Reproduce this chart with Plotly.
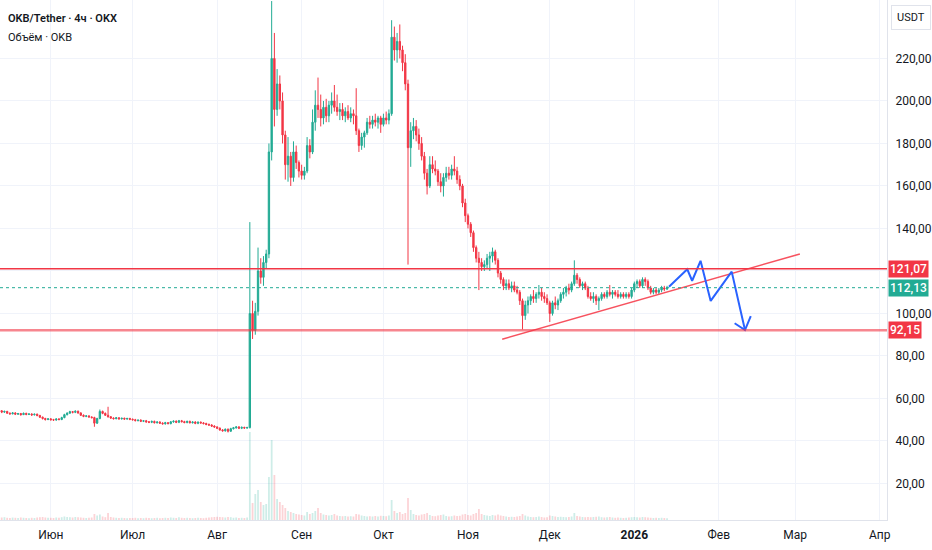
import pandas as pd
import plotly.graph_objects as go

# Daily OKB/USDT candles (13 May 2025 - 13 Jan 2026)
dates = pd.date_range('2025-05-13', '2026-01-13', freq='D')

opens = [
    # May 13-31
    54.6, 54.2, 53.6, 53.9, 53.1, 52.8, 53.2, 52.6, 52.9, 52.4, 53.0, 52.5, 52.7, 52.3, 52.6, 52.0, 51.2, 50.6, 50.1,
    # Jun
    50.4, 50.0, 49.9, 50.3, 50.1, 51.0, 52.4, 53.1, 53.8, 53.5, 54.0, 53.2, 52.1, 51.6, 51.8, 51.3, 51.0, 48.4, 50.6, 53.9,
    53.0, 52.1, 51.4, 50.8, 50.5, 50.9, 50.4, 50.7, 50.3, 50.6,
    # Jul
    50.2, 50.0, 49.6, 49.8, 49.3, 49.5, 49.0, 48.8, 49.2, 48.6, 48.9, 48.4, 48.1, 48.6, 48.2, 49.0, 49.3, 48.8, 49.5, 49.1,
    48.7, 49.2, 48.6, 48.9, 48.3, 48.8, 48.5, 48.2, 47.8, 47.5, 47.0,
    # Aug
    46.6, 46.0, 45.2, 44.8, 45.5, 44.6, 45.8, 46.2, 46.6, 46.0, 46.4, 46.1,
    46.3, 100, 92, 101, 120, 117, 124, 128, 176, 220, 196, 208, 200, 184, 170, 174, 164, 176, 171,
    # Sep
    167, 165, 167, 179, 176, 190, 198, 196, 192, 197, 193, 198, 200, 197, 195, 196, 193, 195, 192, 194,
    193, 186, 179, 183, 185, 190, 189, 191, 190, 192,
    # Oct
    189, 192, 191, 194, 230, 224, 228, 224, 218, 208, 178, 186, 188, 184, 180, 174, 166, 160, 170, 168,
    167, 162, 160, 164, 166, 165, 168, 167, 163, 160, 152,
    # Nov
    146, 142, 138, 131, 126, 124, 122, 123, 126, 127, 129, 125, 119, 116, 113, 114, 112, 113, 111, 110,
    106, 99, 104, 106, 108, 107, 109, 110, 108, 107,
    # Dec
    105, 100, 105, 104, 106, 109, 110, 112, 111, 114, 118, 116, 113, 114, 112, 108, 107, 108, 106, 107,
    109, 108, 110, 109, 110, 109, 108, 109, 108, 109, 108,
    # Jan
    111, 114, 115, 113, 116, 115, 112, 110, 111, 110, 111, 112, 111.5,
]

highs = [
    55.1, 54.5, 54.3, 54.2, 53.4, 53.6, 53.5, 53.2, 53.2, 53.4, 53.3, 53.0, 53.0, 52.9, 52.9, 52.3, 51.5, 50.9, 50.8,
    50.8, 50.4, 50.7, 50.8, 51.4, 52.8, 53.5, 54.2, 54.1, 54.4, 54.3, 53.5, 52.5, 52.2, 52.1, 51.6, 51.4, 50.9, 54.8, 54.3,
    53.4, 56.1, 51.7, 51.1, 51.3, 51.2, 50.9, 51.0, 50.9, 50.9,
    50.6, 50.4, 50.1, 50.2, 49.8, 49.9, 49.4, 49.6, 49.6, 49.3, 49.3, 48.8, 49.0, 48.9, 49.4, 49.7, 49.7, 49.9, 49.9, 49.5,
    49.6, 49.6, 49.3, 49.3, 49.2, 49.2, 48.9, 48.6, 48.2, 47.9, 47.4,
    46.9, 46.4, 45.6, 45.9, 45.9, 46.2, 46.6, 47.0, 47.0, 46.8, 46.7, 46.7,
    143, 106, 105, 131, 126, 127, 130, 180, 247, 232, 215, 212, 204, 186, 183, 176, 181, 179, 172,
    170, 169, 183, 182, 196, 205, 211, 203, 200, 201, 200, 204, 207.5, 203, 199, 199, 197, 198, 197, 196,
    206, 187, 185, 186, 192, 193, 193, 194, 193, 193,
    194, 195, 196, 238, 235, 232, 236, 226, 222, 210, 190, 192, 191, 187, 183, 176, 168, 174, 174, 172,
    168, 166, 166, 169, 169, 170, 174, 169, 165, 161, 154,
    147, 143, 139, 132, 129, 126, 125, 128, 129, 131, 130, 126, 120, 117, 116, 116, 115, 115, 113, 111,
    107, 106, 108, 109, 111, 110, 113.4, 112, 110, 109,
    106, 106, 108, 107, 110, 112, 113, 114, 115, 125, 119, 117, 115, 115, 113, 110, 110, 109, 108, 110,
    110, 111, 113.4, 111, 111, 111, 110, 110, 110, 110, 112,
    115, 116, 116, 117, 117, 116, 113, 112, 112, 112, 113, 113, 113,
]

lows = [
    53.8, 53.1, 53.2, 52.7, 52.3, 52.5, 52.2, 52.3, 51.9, 52.2, 52.1, 52.2, 51.8, 52.0, 51.6, 50.8, 50.1, 49.6, 49.8,
    49.6, 49.4, 49.5, 49.7, 49.8, 50.7, 52.0, 52.8, 53.0, 53.1, 52.8, 51.8, 51.2, 51.2, 51.0, 50.6, 46.7, 48.0, 50.2, 52.6,
    51.8, 51.0, 50.4, 50.1, 50.2, 50.1, 50.1, 50.0, 50.0, 49.8,
    49.6, 49.2, 49.2, 48.9, 48.9, 48.6, 48.4, 48.4, 48.2, 48.2, 48.0, 47.7, 47.7, 47.8, 47.8, 48.6, 48.4, 48.4, 48.7, 48.3,
    48.3, 48.2, 48.2, 47.9, 47.9, 48.1, 47.8, 47.4, 47.1, 46.6, 46.2,
    45.6, 44.8, 44.4, 44.4, 44.0, 44.3, 45.4, 45.8, 45.6, 45.6, 45.7, 45.8,
    45.9, 88, 90, 99, 114, 113, 121, 126, 172, 188, 193, 196, 180, 163, 162, 160, 162, 168, 164,
    163, 163, 166, 173, 175, 186, 192, 188, 189, 190, 190, 194, 195, 193, 191, 191, 190, 191, 190, 189,
    184, 176, 177, 178, 184, 187, 187, 188, 187, 185,
    188, 189, 189, 193, 219, 218, 220, 214, 205, 123, 169, 182, 181, 177, 172, 163, 156, 159, 166, 165,
    160, 157, 155, 162, 163, 163, 165, 161, 158, 150, 143,
    140, 136, 129, 124, 111, 120, 120, 121, 120, 124, 123, 117, 114, 111, 111, 111, 110, 110, 109, 104,
    92.5, 97, 100, 104, 105, 105, 107, 106, 105, 104,
    96, 99, 102, 101.6, 105, 107, 108, 109, 110, 113, 114, 112, 111, 111, 107, 106, 105, 104, 101.6, 106,
    107, 107, 108, 107, 108, 107, 107, 107, 107, 107, 107,
    110, 112, 112, 112, 113, 111, 109, 109, 109, 109, 110, 110.5, 111,
]

closes = [
    54.2, 53.6, 53.9, 53.1, 52.8, 53.2, 52.6, 52.9, 52.4, 53.0, 52.5, 52.7, 52.3, 52.6, 52.0, 51.2, 50.6, 50.1, 50.4,
    50.0, 49.9, 50.3, 50.1, 51.0, 52.4, 53.1, 53.8, 53.5, 54.0, 53.2, 52.1, 51.6, 51.8, 51.3, 51.0, 48.4, 50.6, 53.9, 53.0,
    52.1, 51.4, 50.8, 50.5, 50.9, 50.4, 50.7, 50.3, 50.6, 50.2,
    50.0, 49.6, 49.8, 49.3, 49.5, 49.0, 48.8, 49.2, 48.6, 48.9, 48.4, 48.1, 48.6, 48.2, 49.0, 49.3, 48.8, 49.5, 49.1, 48.7,
    49.2, 48.6, 48.9, 48.3, 48.8, 48.5, 48.2, 47.8, 47.5, 47.0, 46.6,
    46.0, 45.2, 44.8, 45.5, 44.6, 45.8, 46.2, 46.6, 46.0, 46.4, 46.1, 46.3,
    100, 92, 101, 120, 117, 124, 128, 176, 220, 196, 208, 200, 184, 170, 174, 164, 176, 171, 167,
    165, 167, 179, 176, 190, 198, 196, 192, 197, 193, 198, 200, 197, 195, 196, 193, 195, 192, 194, 193,
    186, 179, 183, 185, 190, 189, 191, 190, 192, 189,
    192, 191, 194, 230, 224, 228, 224, 218, 208, 178, 186, 188, 184, 180, 174, 166, 160, 170, 168, 167,
    162, 160, 164, 166, 165, 168, 167, 163, 160, 152, 146,
    142, 138, 131, 126, 124, 122, 123, 126, 127, 129, 125, 119, 116, 113, 114, 112, 113, 111, 110, 106,
    99, 104, 106, 108, 107, 109, 110, 108, 107, 105,
    100, 105, 104, 106, 109, 110, 112, 111, 114, 118, 116, 113, 114, 112, 108, 107, 108, 106, 107, 109,
    108, 110, 109, 110, 109, 108, 109, 108, 109, 108, 111,
    114, 115, 113, 116, 115, 112, 110, 111, 110, 111, 112, 111.5, 112.13,
]

# volume, thousand OKB per day
volumes = [
    30, 25, 28, 22, 20, 24, 22, 20, 25, 22, 20, 18, 22, 20, 25, 28, 30, 25, 22,
    22, 20, 25, 22, 28, 35, 30, 28, 25, 30, 28, 25, 22, 20, 22, 25, 60, 45, 55, 35,
    28, 70, 30, 25, 22, 20, 22, 20, 18, 20,
    20, 22, 18, 20, 18, 22, 20, 18, 20, 22, 18, 20, 22, 20, 25, 22, 20, 28, 22, 20,
    22, 20, 18, 20, 22, 20, 18, 22, 25, 28, 30,
    32, 30, 28, 25, 30, 28, 22, 25, 20, 22, 20, 25,
    880, 170, 260, 300, 180, 150, 160, 430, 800, 450, 210, 180, 150, 120, 90, 80, 70, 60, 55,
    50, 45, 80, 60, 70, 90, 120, 70, 55, 50, 45, 50, 60, 45, 40, 38, 40, 35, 38, 35,
    60, 55, 45, 40, 35, 38, 35, 40, 35, 42,
    40, 38, 45, 200, 90, 70, 80, 60, 70, 220, 100, 60, 50, 45, 55, 60, 70, 50, 40, 38,
    45, 50, 55, 40, 35, 38, 45, 40, 42, 55, 60,
    50, 45, 60, 70, 110, 60, 50, 45, 40, 50, 45, 55, 45, 40, 35, 30, 32, 30, 35, 40,
    60, 45, 35, 30, 28, 30, 35, 30, 25, 28,
    45, 40, 35, 30, 32, 30, 28, 30, 35, 70, 40, 35, 30, 28, 30, 28, 30, 32, 35, 28,
    25, 28, 30, 25, 22, 25, 22, 20, 22, 25, 28,
    30, 28, 25, 30, 28, 25, 22, 20, 22, 20, 22, 20, 18,
]

assert len(dates) == len(opens) == len(highs) == len(lows) == len(closes) == len(volumes), \
    (len(dates), len(opens), len(highs), len(lows), len(closes), len(volumes))

# drawn levels and annotations
resistance = 121.07
support = 92.15
last_price = 112.13

trend_dates = ['2025-11-13 13:00', '2026-03-02 17:00']
trend_prices = [87.9, 128.0]

path_dates = ['2026-01-13 17:00', '2026-01-20 10:00', '2026-01-22 05:00', '2026-01-25 07:00',
              '2026-01-29 00:00', '2026-02-05 17:00', '2026-02-10 14:00']
path_prices = [112.6, 120.8, 115.4, 124.8, 105.9, 119.7, 92.2]
arrow_dates = ['2026-02-06 19:00', '2026-02-10 14:00', '2026-02-12 17:00']
arrow_prices = [95.4, 92.2, 98.8]

month_ticks = pd.date_range('2025-06-01', '2026-04-01', freq='MS')
month_labels = ['Июн', 'Июл', 'Авг', 'Сен', 'Окт', 'Ноя', 'Дек', '<b>2026</b>', 'Фев', 'Мар', 'Апр']
price_ticks = [20, 40, 60, 80, 100, 120, 140, 160, 180, 200, 220]
# 120,00 sits under the 121,07 marker on the scale, so its text is left out
price_labels = ['20,00', '40,00', '60,00', '80,00', '100,00', '', '140,00', '160,00', '180,00', '200,00', '220,00']

UP = '#22ab94'
DOWN = '#f23645'
FONT = 'Roboto, "Noto Sans", sans-serif'

fig = go.Figure()

# volume underneath
vol_colors = ['rgba(34,171,148,0.22)' if c >= o else 'rgba(242,54,69,0.22)' for o, c in zip(opens, closes)]
fig.add_trace(go.Bar(
    x=dates, y=volumes, marker=dict(color=vol_colors, line=dict(width=0)),
    yaxis='y2', hoverinfo='skip'
))

fig.add_trace(go.Candlestick(
    x=dates, open=opens, high=highs, low=lows, close=closes,
    increasing=dict(line=dict(color=UP, width=1), fillcolor=UP),
    decreasing=dict(line=dict(color=DOWN, width=1), fillcolor=DOWN),
    whiskerwidth=0, name='OKB'
))

fig.add_trace(go.Scatter(
    x=trend_dates, y=trend_prices, mode='lines',
    line=dict(color='#f7525f', width=1.5), hoverinfo='skip'
))
fig.add_trace(go.Scatter(
    x=path_dates, y=path_prices, mode='lines',
    line=dict(color='#2962ff', width=2), hoverinfo='skip'
))
fig.add_trace(go.Scatter(
    x=arrow_dates, y=arrow_prices, mode='lines',
    line=dict(color='#2962ff', width=2), hoverinfo='skip'
))

# horizontal levels
fig.add_shape(type='line', xref='paper', x0=0, x1=1, yref='y', y0=resistance, y1=resistance,
              line=dict(color='#f23645', width=1.5))
fig.add_shape(type='line', xref='paper', x0=0, x1=1, yref='y', y0=support, y1=support,
              line=dict(color='rgba(242,54,69,0.6)', width=2.5))
fig.add_shape(type='line', xref='paper', x0=0, x1=1, yref='y', y0=last_price, y1=last_price,
              line=dict(color=UP, width=1, dash='dot'))


def fmt(v):
    return f'{v:.2f}'.replace('.', ',')


# price labels on the scale
for val, col in [(resistance, '#f23645'), (last_price, UP), (support, '#f23645')]:
    fig.add_annotation(
        xref='paper', x=1, xanchor='left', xshift=1, yref='y', y=val, yanchor='middle',
        text=fmt(val), showarrow=False, bgcolor=col, borderpad=1,
        font=dict(family=FONT, size=12, color='white', weight=500)
    )

fig.add_annotation(
    xref='paper', x=1, xanchor='left', xshift=4, yref='paper', y=1, yanchor='top', yshift=-5,
    text='USDT', showarrow=False, bordercolor='#e0e3eb', borderwidth=1, borderpad=5,
    font=dict(family=FONT, size=11, color='#131722')
)

fig.add_annotation(
    xref='paper', x=0, xanchor='left', xshift=6, yref='paper', y=1, yanchor='middle', yshift=-18,
    text='OKB/Tether · 4ч · OKX', showarrow=False,
    font=dict(family=FONT, size=11, color='#131722', weight=600)
)
fig.add_annotation(
    xref='paper', x=0, xanchor='left', xshift=6, yref='paper', y=1, yanchor='middle', yshift=-37,
    text='Объём · OKB', showarrow=False,
    font=dict(family=FONT, size=11, color='#131722')
)

fig.update_layout(
    width=932, height=550,
    margin=dict(l=0, r=45, t=0, b=30),
    paper_bgcolor='white', plot_bgcolor='white',
    showlegend=False, bargap=0.35,
    font=dict(family=FONT, size=12, color='#131722'),
    xaxis=dict(
        type='date', range=['2025-05-13 09:00', '2026-04-03 16:00'],
        tickvals=month_ticks, ticktext=month_labels,
        showgrid=True, gridcolor='#f0f3fa', gridwidth=1,
        showline=True, linecolor='#e0e3eb', ticks='',
        rangeslider=dict(visible=False), zeroline=False,
        tickfont=dict(family=FONT, size=12, color='#131722'),
        ticklabelstandoff=4,
    ),
    yaxis=dict(
        side='right', range=[2.82, 247.5],
        tickvals=price_ticks, ticktext=price_labels,
        showgrid=True, gridcolor='#f0f3fa', gridwidth=1,
        showline=True, linecolor='#e0e3eb', ticks='', zeroline=False,
        tickfont=dict(family=FONT, size=12, color='#131722'),
        ticklabelstandoff=5,
    ),
    yaxis2=dict(overlaying='y', range=[0, 5200], visible=False),
)

# the page is photographed at exactly the figure size, so drop the default body margin
fig.write_html('out.html', config={'displayModeBar': False},
               post_script="document.body.style.margin='0';")
